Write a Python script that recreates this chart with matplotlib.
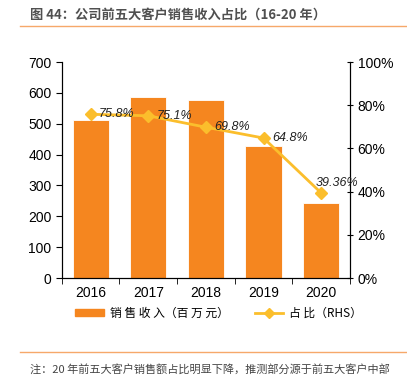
import matplotlib.pyplot as plt
from matplotlib.lines import Line2D

plt.rcParams['font.family'] = ['Liberation Sans', 'Noto Sans CJK SC', 'DejaVu Sans']

years = ["2016", "2017", "2018", "2019", "2020"]
sales = [513, 585, 577, 428, 243]
share = [75.8, 75.1, 69.8, 64.8, 39.36]
share_labels = ["75.8%", "75.1%", "69.8%", "64.8%", "39.36%"]

bar_col = "#F5861F"
line_col = "#FBBE2C"
cjk = ['Noto Sans CJK SC', 'DejaVu Sans']

fig = plt.figure(figsize=(4.07, 3.88), dpi=100)
ax = fig.add_axes([0.152, 0.2835, 0.708, 0.5567])
x = list(range(len(years)))
ax.bar(x, sales, width=0.63, color=bar_col, edgecolor="white", lw=0.6, zorder=1)
ax.set_xlim(-0.5, 4.5)
ax.set_ylim(0, 700)
ax.set_yticks(range(0, 701, 100))
ax.set_xticks(x)
ax.set_xticklabels(years)
ax.set_xticks([i + 0.5 for i in range(-1, 5)], minor=True)
ax.tick_params(axis="x", which="major", length=0, pad=6, labelsize=10)
ax.tick_params(axis="x", which="minor", length=4, direction="out")
ax.tick_params(axis="y", length=4, direction="out", labelsize=10)
ax.spines["top"].set_visible(False)

ax2 = ax.twinx()
ax2.plot(x, share, color=line_col, lw=2, marker="D", ms=6, zorder=3)
ax2.set_ylim(0, 100)
ax2.set_yticks(range(0, 101, 20))
ax2.set_yticklabels([f"{v}%" for v in range(0, 101, 20)])
ax2.tick_params(axis="y", length=4, direction="inout", labelsize=10)
ax2.spines["top"].set_visible(False)
for i, (xi, yi, lab) in enumerate(zip(x, share, share_labels)):
    off = (-4, 7) if i == len(x) - 1 else (6, 0)
    ax2.annotate(lab, (xi, yi), xytext=off, textcoords="offset points",
                 fontsize=9, style="italic", ha="left", va="center", color="#222222")

# title and separator lines
fig.text(0.074, 0.962, "图 44：公司前五大客户销售收入占比（16-20 年）", family=cjk,
         fontsize=9.5, fontweight="bold", color="#505050", va="center")
fig.add_artist(Line2D([0.05, 1.0], [0.933, 0.933], color="#F6A86A", lw=1))
fig.add_artist(Line2D([0.05, 1.0], [0.093, 0.093], color="#F6A86A", lw=1))

# legend
handles = [plt.Rectangle((0, 0), 1, 1, color=bar_col),
           Line2D([], [], color=line_col, lw=2, marker="D", ms=5)]
fig.legend(handles, ["销 售 收 入（百 万 元）", "占 比（RHS）"], loc="center",
           bbox_to_anchor=(0.537, 0.193), ncol=2, frameon=False,
           prop={"family": cjk, "size": 8.5}, handlelength=2.4, handleheight=0.5,
           columnspacing=2.2, handletextpad=0.5)

fig.text(0.074, 0.047, "注：20 年前五大客户销售额占比明显下降，推测部分源于前五大客户中部",
         family=cjk, fontsize=8, color="#444444", va="center")
fig.text(0.074, -0.022, "分客户", family=cjk, fontsize=8, color="#444444", va="center")

fig.savefig("out.png", dpi=100)
